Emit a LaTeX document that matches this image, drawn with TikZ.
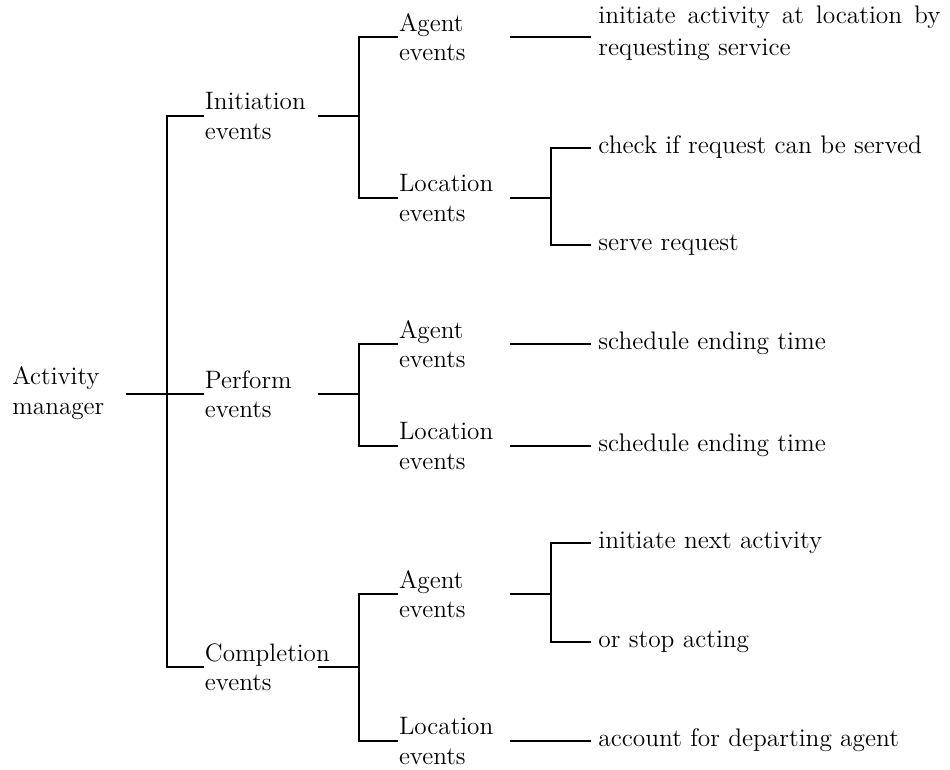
\documentclass[tikz,border=0pt]{standalone}
\begin{document}
\begin{tikzpicture}[x=0.5pt,y=-0.5pt,
  lbl/.style={font=\fontsize{12.6}{14.6}\selectfont,align=left,anchor=west,inner xsep=0.8pt,inner ysep=0pt},
  leaf/.style={font=\fontsize{12.7}{14.6}\selectfont,anchor=west,inner xsep=4pt,inner ysep=0pt,text height=8.6pt,text depth=2.8pt},
  conn/.style={line width=1.2pt,line cap=rect}]
\useasboundingbox (0,0) rectangle (950,770);
% level 0
\node[lbl,inner xsep=0pt] (am) at (12,393) {Activity\\manager};
% level 1
\node[lbl] (init) at (203,116) {Initiation\\events};
\node[lbl] (perf) at (203,394) {Perform\\events};
\node[lbl] (comp) at (203,667) {Completion\\events};
% level 2
\node[lbl] (ia) at (397,37) {Agent\\events};
\node[lbl] (il) at (397,198) {Location\\events};
\node[lbl] (pa) at (397,344) {Agent\\events};
\node[lbl] (pl) at (397,446) {Location\\events};
\node[lbl] (ca) at (397,594) {Agent\\events};
\node[lbl] (cl) at (397,741) {Location\\events};
% leaves
\node[lbl,inner xsep=4pt,font=\fontsize{12.7}{16}\selectfont] (ia1) at (590,33) {\makebox[171pt][s]{initiate activity at location by}\\requesting service};
\node[leaf] (il1) at (590,148) {check if request can be served};
\node[leaf] (il2) at (590,245) {serve request};
\node[leaf] (pa1) at (590,344) {schedule ending time};
\node[leaf] (pl1) at (590,446) {schedule ending time};
\node[leaf] (ca1) at (590,543) {initiate next activity};
\node[leaf] (ca2) at (590,642) {or stop acting};
\node[leaf] (cl1) at (590,741) {account for departing agent};
% junctions and line starts
\coordinate (amR) at (127,394);
\coordinate (j0) at (167,394);
\coordinate (initR) at (319,116);
\coordinate (j1) at (359,116);
\coordinate (perfR) at (319,394);
\coordinate (j2) at (359,394);
\coordinate (compR) at (319,667);
\coordinate (j3) at (359,667);
\coordinate (iaR) at (511,37);
\coordinate (ilR) at (511,198);
\coordinate (jil) at (551,198);
\coordinate (paR) at (511,344);
\coordinate (plR) at (511,446);
\coordinate (caR) at (511,594);
\coordinate (jca) at (551,594);
\coordinate (clR) at (511,741);
% connectors
\draw[conn] (amR) -- (j0);
\draw[conn] (init.west) -| (j0) |- (comp.west);
\draw[conn] (j0) -- (perf.west);
\draw[conn] (initR) -- (j1);
\draw[conn] (ia.west) -| (j1) |- (il.west);
\draw[conn] (perfR) -- (j2);
\draw[conn] (pa.west) -| (j2) |- (pl.west);
\draw[conn] (compR) -- (j3);
\draw[conn] (ca.west) -| (j3) |- (cl.west);
\draw[conn] (iaR) -- (iaR -| ia1.west);
\draw[conn] (ilR) -- (jil);
\draw[conn] (il1.west) -| (jil) |- (il2.west);
\draw[conn] (paR) -- (pa1.west);
\draw[conn] (plR) -- (pl1.west);
\draw[conn] (caR) -- (jca);
\draw[conn] (ca1.west) -| (jca) |- (ca2.west);
\draw[conn] (clR) -- (cl1.west);
\end{tikzpicture}
\end{document}
